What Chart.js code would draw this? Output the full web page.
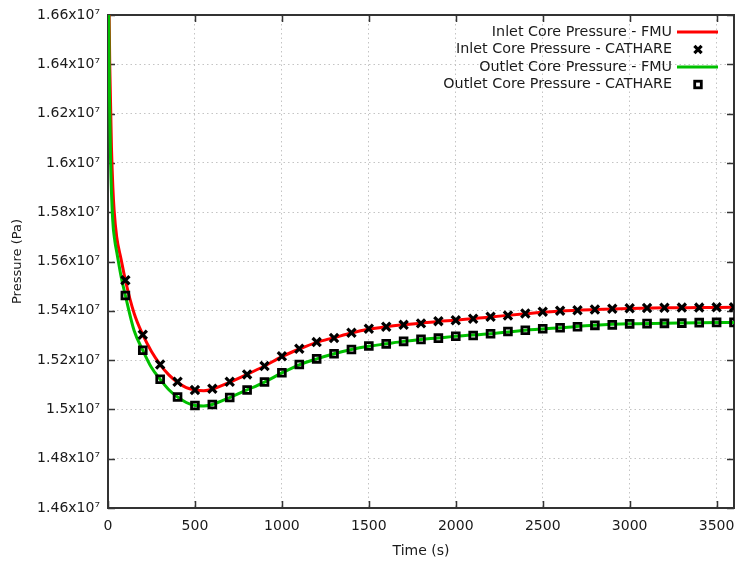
<!DOCTYPE html>
<html>
<head>
<meta charset="utf-8">
<script src="https://cdn.jsdelivr.net/npm/chart.js@4.4.1/dist/chart.umd.min.js"></script>
<style>
  html, body { margin: 0; padding: 0; background: #fff; }
  #wrap { width: 737px; height: 564px; position: relative; }
</style>
</head>
<body>
<div id="wrap"><canvas id="chart" width="737" height="564"></canvas></div>
<script>
// CATHARE reference points (s, Pa)
const timeCathare = [100, 200, 300, 400, 500, 600, 700, 800, 900, 1000, 1100, 1200,
  1300, 1400, 1500, 1600, 1700, 1800, 1900, 2000, 2100, 2200, 2300, 2400,
  2500, 2600, 2700, 2800, 2900, 3000, 3100, 3200, 3300, 3400, 3500, 3600];
const inletCathare = [15524000, 15303000, 15182000, 15112000, 15079000, 15084000, 15112000, 15142000,
  15176000, 15216000, 15246000, 15273000, 15290000, 15311000, 15327000, 15335000, 15343000, 15349000,
  15358000, 15362000, 15368000, 15376000, 15381000, 15389000, 15396000, 15400000, 15402000, 15405000,
  15408000, 15410000, 15411000, 15412000, 15413000, 15413000, 15414000, 15414000];
const outletCathare = [15462000, 15240000, 15122000, 15050000, 15016000, 15020000, 15048000, 15079000,
  15111000, 15149000, 15182000, 15205000, 15226000, 15243000, 15257000, 15266000, 15276000, 15284000,
  15289000, 15297000, 15300000, 15307000, 15316000, 15321000, 15327000, 15331000, 15335000, 15341000,
  15343000, 15347000, 15348000, 15349000, 15350000, 15352000, 15353000, 15353000];

// FMU curves
const timeInletFmu = [0, 10, 20, 28, 35, 50, 75, 100, 150, 200, 250, 300, 350, 400, 450, 500, 550, 600,
  700, 800, 900, 1000, 1100, 1200, 1300, 1400, 1500, 1600, 1700, 1800, 1900, 2000, 2200, 2400,
  2600, 2800, 3000, 3200, 3400, 3600];
const inletFmu = [17000000, 16400000, 16060000, 15900000, 15810000, 15700000, 15610000, 15524000,
  15390000, 15303000, 15235000, 15182000, 15140000, 15110000, 15088000, 15079000, 15076000, 15082000,
  15110000, 15142000, 15176000, 15214000, 15245000, 15272000, 15291000, 15310000, 15325000, 15335000,
  15343000, 15350000, 15357000, 15362000, 15375000, 15388000, 15399000, 15405000, 15409000, 15412000,
  15413000, 15414000];
const timeOutletFmu = [0, 8, 15, 27, 40, 50, 75, 100, 150, 200, 250, 300, 350, 400, 450, 500, 550, 600,
  700, 800, 900, 1000, 1100, 1200, 1300, 1400, 1500, 1600, 1700, 1800, 1900, 2000, 2200, 2400,
  2600, 2800, 3000, 3200, 3400, 3600];
const outletFmu = [17000000, 16300000, 16000000, 15770000, 15680000, 15640000, 15540000, 15462000,
  15320000, 15240000, 15170000, 15122000, 15080000, 15050000, 15028000, 15016000, 15014000, 15020000,
  15048000, 15079000, 15111000, 15148000, 15181000, 15205000, 15226000, 15243000, 15256000, 15266000,
  15276000, 15284000, 15290000, 15297000, 15307000, 15321000, 15331000, 15341000, 15347000, 15349000,
  15352000, 15353000];

const xTickValues = [0, 500, 1000, 1500, 2000, 2500, 3000, 3500];
const yTickValues = [14600000, 14800000, 15000000, 15200000, 15400000, 15600000,
  15800000, 16000000, 16200000, 16400000, 16600000];

const toPoints = (xs, ys) => xs.map((x, i) => ({ x: x, y: ys[i] }));

const FONT = 'DejaVu Sans';
const TEXT = '#1a1a1a';

// gnuplot-ish frame: border + inward mirrored ticks, and the legend
const framePlugin = {
  id: 'frame',
  beforeDatasetsDraw(chart) {
    const { ctx, chartArea: a, scales } = chart;
    ctx.save();
    ctx.strokeStyle = '#333';
    ctx.lineWidth = 1.5;
    ctx.beginPath();
    scales.x.ticks.forEach((t) => {
      const px = Math.round(scales.x.getPixelForValue(t.value)) + 0.5;
      ctx.moveTo(px, a.bottom); ctx.lineTo(px, a.bottom - 7);
      ctx.moveTo(px, a.top); ctx.lineTo(px, a.top + 7);
    });
    scales.y.ticks.forEach((t) => {
      const py = Math.round(scales.y.getPixelForValue(t.value)) + 0.5;
      ctx.moveTo(a.left, py); ctx.lineTo(a.left + 7, py);
      ctx.moveTo(a.right, py); ctx.lineTo(a.right - 7, py);
    });
    ctx.stroke();
    ctx.lineWidth = 2;
    ctx.strokeRect(a.left, a.top, a.right - a.left, a.bottom - a.top);
    ctx.restore();
  },
  afterDraw(chart) {
    const { ctx } = chart;
    const textRight = 672, sampleX = 698, rowY = [32, 49.5, 67, 84.5];
    ctx.save();
    ctx.font = '14.3px "' + FONT + '"';
    ctx.textAlign = 'right';
    ctx.textBaseline = 'middle';
    chart.data.datasets.forEach((ds, i) => {
      const y = rowY[i];
      ctx.fillStyle = TEXT;
      ctx.fillText(ds.label, textRight, y);
      if (ds.showLine) {
        ctx.strokeStyle = ds.borderColor;
        ctx.lineWidth = 3;
        ctx.beginPath();
        ctx.moveTo(677, y); ctx.lineTo(718, y);
        ctx.stroke();
      } else {
        ctx.strokeStyle = '#000';
        ctx.lineWidth = ds.pointBorderWidth;
        if (ds.pointStyle === 'crossRot') {
          const r = 3.6;
          ctx.beginPath();
          ctx.moveTo(sampleX - r, y - r); ctx.lineTo(sampleX + r, y + r);
          ctx.moveTo(sampleX - r, y + r); ctx.lineTo(sampleX + r, y - r);
          ctx.stroke();
        } else {
          ctx.strokeRect(sampleX - 3.3, y - 3.3, 6.6, 6.6);
        }
      }
    });
    ctx.restore();
  }
};

new Chart(document.getElementById('chart'), {
  type: 'scatter',
  data: {
    datasets: [
      {
        label: 'Inlet Core Pressure - FMU',
        data: toPoints(timeInletFmu, inletFmu),
        showLine: true,
        borderColor: '#ff0000',
        borderWidth: 3,
        pointRadius: 0,
        cubicInterpolationMode: 'monotone',
        order: 4
      },
      {
        label: 'Inlet Core Pressure - CATHARE',
        data: toPoints(timeCathare, inletCathare),
        showLine: false,
        pointStyle: 'crossRot',
        pointRadius: 5.8,
        pointBorderWidth: 3.2,
        pointBorderColor: '#000',
        pointBackgroundColor: 'rgba(0,0,0,0)',
        order: 2
      },
      {
        label: 'Outlet Core Pressure - FMU',
        data: toPoints(timeOutletFmu, outletFmu),
        showLine: true,
        borderColor: '#00c000',
        borderWidth: 3,
        pointRadius: 0,
        cubicInterpolationMode: 'monotone',
        order: 3
      },
      {
        label: 'Outlet Core Pressure - CATHARE',
        data: toPoints(timeCathare, outletCathare),
        showLine: false,
        pointStyle: 'rect',
        pointRadius: 4.8,
        pointBorderWidth: 2.8,
        pointBorderColor: '#000',
        pointBackgroundColor: 'rgba(0,0,0,0)',
        order: 1
      }
    ]
  },
  options: {
    responsive: false,
    animation: false,
    layout: { autoPadding: false, padding: { top: 15, right: 3, left: 0, bottom: 0 } },
    plugins: {
      legend: { display: false },
      tooltip: { enabled: false }
    },
    scales: {
      x: {
        type: 'linear',
        min: 0,
        max: 3600,
        afterBuildTicks(scale) { scale.ticks = xTickValues.map((v) => ({ value: v })); },
        ticks: {
          color: TEXT,
          font: { family: FONT, size: 14 },
          padding: 10,
          maxRotation: 0,
          autoSkip: false,
          callback: (v) => String(v)
        },
        grid: {
          color: '#c4c4c4',
          lineWidth: 1,
          drawTicks: false
        },
        border: { display: false, dash: [1.5, 3] },
        title: {
          display: true,
          text: 'Time (s)',
          color: TEXT,
          font: { family: FONT, size: 14 },
          padding: { top: 4, bottom: 4 }
        },
        afterFit(scale) {
          scale.height = 56;
          scale.paddingLeft = 0;
          scale.paddingRight = 0;
        }
      },
      y: {
        type: 'linear',
        min: 14600000,
        max: 16600000,
        afterBuildTicks(scale) { scale.ticks = yTickValues.map((v) => ({ value: v })); },
        ticks: {
          color: TEXT,
          font: { family: FONT, size: 14 },
          padding: 8,
          autoSkip: false,
          callback: (v) => parseFloat((v / 1e7).toFixed(2)) + 'x10\u2077'
        },
        grid: {
          color: '#c4c4c4',
          lineWidth: 1,
          drawTicks: false
        },
        border: { display: false, dash: [1.5, 3] },
        title: {
          display: true,
          text: 'Pressure (Pa)',
          color: TEXT,
          font: { family: FONT, size: 13 },
          padding: { top: 10, bottom: 0 }
        },
        afterFit(scale) {
          scale.width = 108;
          scale.paddingTop = 0;
          scale.paddingBottom = 0;
        }
      }
    }
  },
  plugins: [framePlugin]
});
</script>
</body>
</html>
